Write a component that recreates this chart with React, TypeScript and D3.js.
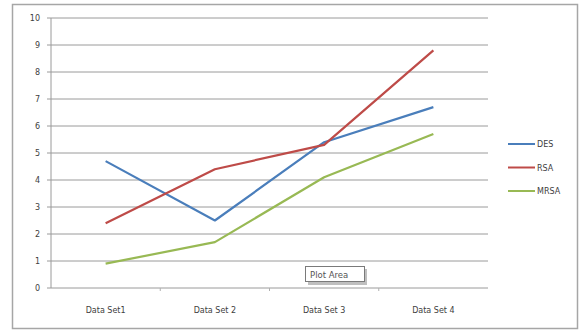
import React from "react";
import * as d3 from "d3";

const categories = ["Data Set1", "Data Set 2", "Data Set 3", "Data Set 4"];
const desValues = [4.7, 2.5, 5.4, 6.7];
const rsaValues = [2.4, 4.4, 5.3, 8.8];
const mrsaValues = [0.9, 1.7, 4.1, 5.7];
const yTicks = [0, 1, 2, 3, 4, 5, 6, 7, 8, 9, 10];

const seriesList = [
  { name: "DES", values: desValues, color: "#4a7ebb" },
  { name: "RSA", values: rsaValues, color: "#be4b48" },
  { name: "MRSA", values: mrsaValues, color: "#98b954" },
];

const W = 583;
const H = 332;
const plot = { left: 51, right: 488, top: 18, bottom: 288 };
const font = "'DejaVu Sans', Verdana, sans-serif";

export default function App() {
  const x = d3
    .scaleBand<string>()
    .domain(categories)
    .range([plot.left, plot.right]);
  const y = d3.scaleLinear().domain([0, 10]).range([plot.bottom, plot.top]);
  const cx = (c: string) => (x(c) ?? 0) + x.bandwidth() / 2;

  const line = d3
    .line<number>()
    .x((_, i) => cx(categories[i]))
    .y((v) => y(v));

  return (
    <svg
      width={W}
      height={H}
      style={{ position: "absolute", left: 0, top: 0, background: "#fff" }}
    >
      <rect x={0} y={0} width={W} height={H} fill="#fff" />
      <rect
        x={12.5}
        y={4.5}
        width={565}
        height={324}
        fill="#fff"
        stroke="#a6a6a6"
        strokeWidth={1.5}
      />
      {/* gridlines */}
      {yTicks.map((t) => (
        <g key={t}>
          <line
            x1={plot.left - 4}
            x2={plot.right}
            y1={y(t)}
            y2={y(t)}
            stroke="#9a9a9a"
            strokeWidth={1}
          />
          <text
            x={40}
            y={y(t) + 3}
            textAnchor="end"
            fontFamily={font}
            fontSize={8}
            fill="#404040"
          >
            {t}
          </text>
        </g>
      ))}
      <line
        x1={plot.left}
        x2={plot.left}
        y1={plot.top}
        y2={plot.bottom}
        stroke="#9a9a9a"
      />
      {categories.map((c, i) => (
        <g key={c}>
          {i > 0 && (
            <line
              x1={x(c)}
              x2={x(c)}
              y1={plot.bottom}
              y2={plot.bottom + 3}
              stroke="#b0b0b0"
            />
          )}
          <text
            x={cx(c)}
            y={313}
            textAnchor="middle"
            fontFamily={font}
            fontSize={8}
            fill="#404040"
          >
            {c}
          </text>
        </g>
      ))}
      {seriesList.map((s) => (
        <path
          key={s.name}
          d={line(s.values) ?? ""}
          fill="none"
          stroke={s.color}
          strokeWidth={2.2}
          strokeLinejoin="round"
        />
      ))}
      {/* legend */}
      {seriesList.map((s, i) => (
        <g key={s.name} transform={`translate(508, ${144 + i * 23.5})`}>
          <line x1={0} x2={27} y1={0} y2={0} stroke={s.color} strokeWidth={2} />
          <text x={29} y={3} fontFamily={font} fontSize={8} fill="#404040">
            {s.name}
          </text>
        </g>
      ))}
      {/* hover tip */}
      <rect x={308} y={269} width={59} height={16} fill="#808080" opacity={0.5} />
      <rect
        x={305.5}
        y={266.5}
        width={59}
        height={15}
        fill="#fff"
        stroke="#7a7a7a"
      />
      <text x={310} y={277.5} fontFamily={font} fontSize={8.5} fill="#555">
        Plot Area
      </text>
    </svg>
  );
}
